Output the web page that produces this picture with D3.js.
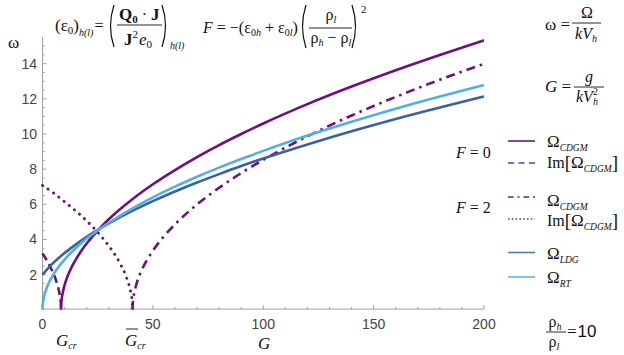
<!DOCTYPE html>
<html><head><meta charset="utf-8">
<script src="https://cdn.jsdelivr.net/npm/d3@7"></script>
<style>body{margin:0;background:#fff}svg{display:block}</style>
</head><body><svg id="c" width="624" height="355"></svg>
<script>
// ---- data ----
const xTicks = [0, 50, 100, 150, 200];
const yTicks = [2, 4, 6, 8, 10, 12, 14];

// F = 0 : Omega_CDGM (real branch)
const cdgm0G = [8.4,8.45,8.5,8.6,8.8,9,9.5,10,11,12,13,15,17,20,25,30,40,50,60,70,80,90,100,120,140,160,180,200];
const cdgm0W = [0,0.25,0.35,0.49,0.70,0.86,1.16,1.40,1.79,2.10,2.38,2.84,3.25,3.77,4.51,5.15,6.22,7.14,7.95,8.69,9.37,10.00,10.60,11.70,12.70,13.63,14.50,15.33];
// F = 0 : Im[Omega_CDGM]
const imCdgm0G = [0,1,2,3,4,5,6,7,7.5,8,8.2,8.3,8.4];
const imCdgm0W = [3.21,3.01,2.80,2.57,2.32,2.04,1.72,1.31,1.05,0.70,0.49,0.35,0];
// F = 2 : Omega_CDGM
const cdgm2G = [40.8,40.85,41,41.5,42,43,45,50,55,60,70,80,90,100,120,140,160,180,200];
const cdgm2W = [0,0.25,0.50,0.93,1.21,1.65,2.27,3.36,4.18,4.86,5.99,6.94,7.78,8.53,9.87,11.05,12.11,13.09,13.99];
// F = 2 : Im[Omega_CDGM]
const imCdgm2G = [0,5,10,15,20,25,30,35,38,39,40,40.5,40.7,40.8];
const imCdgm2W = [7.08,6.64,6.15,5.63,5.06,4.41,3.64,2.67,1.86,1.49,0.99,0.61,0.35,0];
// Omega_LDG
const ldgG = [0,2.5,5,10,15,20,25,30,40,50,60,70,80,90,100,120,140,160,180,200];
const ldgW = [2.0,2.36,2.68,3.23,3.71,4.15,4.54,4.91,5.58,6.18,6.73,7.24,7.72,8.18,8.61,9.41,10.16,10.86,11.51,12.14];
// Omega_RT
const rtG = [0,0.1,0.5,1,2,3,5,7.5,10,15,20,25,30,40,50,60,70,80,90,100,120,140,160,180,200];
const rtW = [0,0.29,0.64,0.90,1.28,1.57,2.02,2.48,2.86,3.50,4.05,4.52,4.95,5.72,6.40,7.01,7.57,8.09,8.58,9.04,9.91,10.70,11.44,12.13,12.79];

// ---- styles ----
const PURPLE = "#720d80", DBLUE = "#3762a2", LBLUE = "#4fb0e6";
const serif = "'Liberation Serif','DejaVu Serif',serif";
const sans = "'Liberation Sans',Arial,sans-serif";

const svg = d3.select("#c");
const x = d3.scaleLinear().domain([0, 200]).range([42.5, 484]);
const y = d3.scaleLinear().domain([0, 14]).range([309.8, 63.7]);
const yTop = 15.5;

// axes
const axisCol = "#a0a0a0";
const ax = svg.append("g").attr("stroke", axisCol).attr("stroke-width", 1).attr("fill", "none");
ax.append("line").attr("x1", x(0)).attr("x2", x(200)).attr("y1", y(0.04)).attr("y2", y(0.04));
ax.append("line").attr("x1", x(0)).attr("x2", x(0)).attr("y1", y(0.04)).attr("y2", y(yTop));
d3.range(10, 210, 10).forEach(v => {
  const major = v % 50 === 0;
  ax.append("line").attr("x1", x(v)).attr("x2", x(v)).attr("y1", y(0.04)).attr("y2", y(0.04) - (major ? 4 : 2.2));
});
d3.range(0.5, 15.5, 0.5).forEach(v => {
  const major = v % 2 === 0;
  ax.append("line").attr("x1", x(0)).attr("x2", x(0) + (major ? 4 : 2.2)).attr("y1", y(v)).attr("y2", y(v));
});
svg.append("g").selectAll("text").data(xTicks).join("text")
  .attr("x", d => x(d)).attr("y", 329).attr("text-anchor", "middle")
  .attr("font-family", sans).attr("font-size", 14).attr("fill", "#444").text(d => d);
svg.append("g").selectAll("text").data(yTicks).join("text")
  .attr("x", 37).attr("y", d => y(d) + 5).attr("text-anchor", "end")
  .attr("font-family", sans).attr("font-size", 14).attr("fill", "#444").text(d => d);

// curves
const line = d3.line().x(d => x(d[0])).y(d => y(d[1])).curve(d3.curveMonotoneX);
const zip = (a, b) => a.map((v, i) => [v, b[i]]);
const plot = svg.append("g").attr("fill", "none").attr("stroke-width", 2.6);
plot.append("path").attr("d", line(zip(imCdgm2G, imCdgm2W))).attr("stroke", PURPLE)
  .attr("stroke-dasharray", "0.1,6.6").attr("stroke-linecap", "round").attr("stroke-width", 2.9);
plot.append("path").attr("d", line(zip(imCdgm0G, imCdgm0W))).attr("stroke", PURPLE).attr("stroke-dasharray", "8,4.5");
plot.append("path").attr("d", line(zip(cdgm2G, cdgm2W))).attr("stroke", PURPLE).attr("stroke-dasharray", "9,5,2.5,5");
plot.append("path").attr("d", line(zip(cdgm0G, cdgm0W))).attr("stroke", PURPLE);
plot.append("path").attr("d", line(zip(ldgG, ldgW))).attr("stroke", DBLUE);
plot.append("path").attr("d", line(zip(rtG, rtW))).attr("stroke", LBLUE);

// ---- text helpers ----
// parts: [text, size, style(0 normal,1 italic,2 bold), yOffset, dx, family]
function rich(x0, y0, parts, anchor) {
  const t = svg.append("text").attr("x", x0).attr("y", y0).attr("font-family", serif).attr("fill", "#111");
  if (anchor) t.attr("text-anchor", anchor);
  let cur = 0;
  parts.forEach(p => {
    const off = p[3] || 0;
    const s = t.append("tspan").text(p[0]).attr("font-size", p[1]);
    if (off !== cur) { s.attr("dy", off - cur); cur = off; }
    if (p[2] === 1) s.attr("font-style", "italic");
    if (p[2] === 2) s.attr("font-weight", "bold");
    if (p[4]) s.attr("dx", p[4]);
    if (p[5]) s.attr("font-family", p[5]);
  });
  return t;
}
function hline(x1, x2, yy) {
  svg.append("line").attr("x1", x1).attr("x2", x2).attr("y1", yy).attr("y2", yy).attr("stroke", "#111").attr("stroke-width", 0.9);
}
function paren(xa, top, bot, open) {
  const w = 6, mid = (top + bot) / 2;
  const p = open ? `M${xa + w},${top} Q${xa - 1},${mid} ${xa + w},${bot}` : `M${xa},${top} Q${xa + w + 1},${mid} ${xa},${bot}`;
  svg.append("path").attr("d", p).attr("fill", "none").attr("stroke", "#111").attr("stroke-width", 1.2);
}

// formula 1
rich(55, 31, [["(ε", 17], ["0", 11, 0, 3], [")", 17], ["h(l)", 10, 1, 5], ["=", 16, 0, 0, 1]]);
paren(108, 5, 47, true);
rich(119, 20, [["Q", 17, 2], ["0", 11, 2, 3], [" · ", 16], ["J", 17, 2]]);
hline(117, 162, 25);
rich(124, 45, [["J", 17, 2], ["2", 11, 0, -7], ["e", 17, 1, 0, 1], ["0", 11, 0, 3]]);
paren(162, 5, 47, false);
rich(170, 49, [["h(l)", 10, 1]]);

// formula 2
rich(203, 33, [["F", 16, 1], [" = −(ε", 16], ["0", 10, 0, 3], ["h", 10, 1, 3], [" + ε", 16], ["0", 10, 0, 3], ["l", 10, 1, 3], [")", 16]]);
paren(300, 5, 48, true);
rich(331, 20, [["ρ", 16], ["l", 10, 1, 3]], "middle");
hline(309, 352, 28);
rich(331, 43, [["ρ", 16], ["h", 10, 1, 3], [" − ρ", 16], ["l", 10, 1, 3]], "middle");
paren(352, 5, 48, false);
rich(361, 13, [["2", 11]]);

// right formulas
rich(545, 30, [["ω", 17], [" =", 17]]);
rich(587, 18, [["Ω", 16]], "middle");
hline(572, 601, 23);
rich(586, 39, [["kV", 16, 1], ["h", 10, 1, 3]], "middle");

rich(545, 92, [["G", 17, 1], [" =", 17]]);
rich(589, 82, [["g", 16, 1]], "middle");
hline(574, 604, 87);
rich(576, 102, [["kV", 16, 1], ["2", 10, 0, -7], ["h", 10, 1, 3, -5]]);

// bottom right
rich(555, 327, [["ρ", 16], ["h", 10, 1, 3]], "middle");
hline(546, 566, 332);
rich(554, 347, [["ρ", 16], ["l", 10, 1, 3]], "middle");
rich(567, 337, [["=", 17], ["10", 17, 0, 0, 1, sans]]);

// axis labels
rich(8, 48, [["ω", 17]]);
rich(258, 349, [["G", 17, 1]]);
rich(56, 346, [["G", 17, 1], ["cr", 10, 1, 3]]);
rich(125, 346, [["G", 17, 1], ["cr", 10, 1, 3]]);
hline(126, 138, 329);

// legend
rich(456, 158, [["F", 16, 1], [" = 0", 16]]);
rich(456, 213, [["F", 16, 1], [" = 2", 16]]);
const lg = svg.append("g").attr("fill", "none").attr("stroke-width", 1.6);
const L = (yy, col, dash) => {
  const l = lg.append("line").attr("x1", 508).attr("x2", 535).attr("y1", yy).attr("y2", yy).attr("stroke", col);
  if (dash) l.attr("stroke-dasharray", dash);
};
L(141, "#6a1a88"); L(163, "#7431a4", "6,4.5"); L(197, "#6a1a88", "5.5,4,2,4"); L(219, "#5a2ea2", "1.5,2.3");
L(252.5, "#4f7bb5"); L(277, "#5ab6ec");
rich(547, 147, [["Ω", 17], ["CDGM", 9.5, 1, 4]]);
rich(547, 168, [["Im", 16], ["[", 19, 0, 1], ["Ω", 17], ["CDGM", 9.5, 1, 4], ["]", 19, 0, 1]]);
rich(547, 206, [["Ω", 17], ["CDGM", 9.5, 1, 4]]);
rich(547, 226, [["Im", 16], ["[", 19, 0, 1], ["Ω", 17], ["CDGM", 9.5, 1, 4], ["]", 19, 0, 1]]);
rich(547, 259, [["Ω", 17], ["LDG", 9.5, 1, 4]]);
rich(547, 283, [["Ω", 17], ["RT", 9.5, 1, 4]]);
</script></body></html>
